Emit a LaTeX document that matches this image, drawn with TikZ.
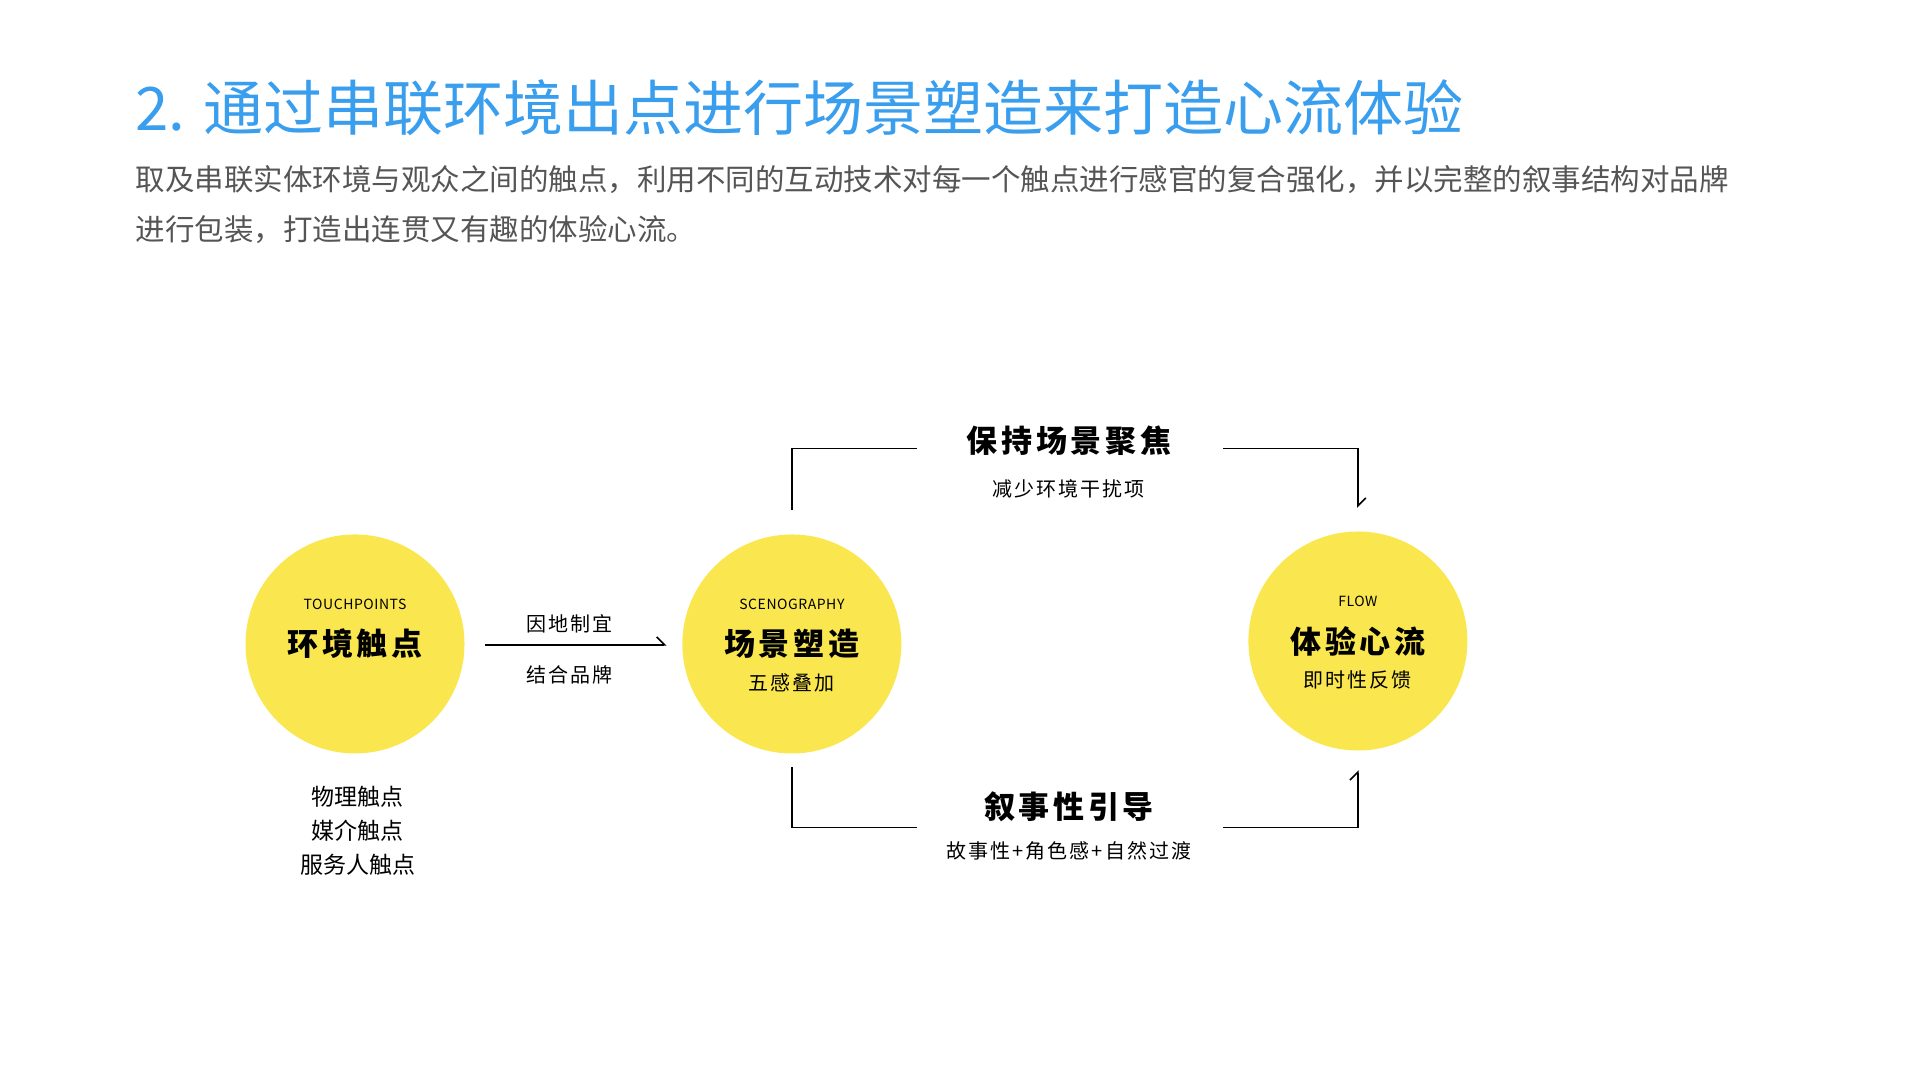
\documentclass[tikz,border=0pt]{standalone}
\usepackage{fontspec}
\setmainfont{Noto Sans CJK SC}
\usetikzlibrary{positioning,arrows.meta}
\definecolor{titleblue}{HTML}{3A9EEE}
\definecolor{circleyellow}{HTML}{FAE74F}
\definecolor{textgray}{HTML}{555555}
\begin{document}
\begin{tikzpicture}[x=0.986pt,y=-0.986pt,
   spot/.style={circle,fill=circleyellow,minimum size=219pt,inner sep=0pt},
   tag/.style={font=\fontsize{14}{16}\selectfont\addfontfeature{LetterSpace=4}},
   head/.style={font=\fontsize{31}{36}\bfseries\addfontfeature{LetterSpace=12}\selectfont},
   sub/.style={font=\fontsize{20}{24}\selectfont\addfontfeature{LetterSpace=10}},
   link/.style={line width=1.6pt,-{Straight Barb[harpoon,length=8pt,width=16pt]}}]
   \useasboundingbox (0,0) rectangle (1947,1095);
   % heading
   \node[anchor=west,text=titleblue,font=\fontsize{60}{64}\selectfont] (title) at (134,109) {2. 通过串联环境出点进行场景塑造来打造心流体验};
   \node[anchor=north west,text=textgray,align=left,font=\fontsize{29.5}{50}\selectfont] (intro) at (134,164)
      {取及串联实体环境与观众之间的触点，利用不同的互动技术对每一个触点进行感官的复合强化，并以完整的叙事结构对品牌\\进行包装，打造出连贯又有趣的体验心流。};
   % circles
   \node[spot] (touch) at (360,653) {};
   \node[spot] (scene) at (803,653) {};
   \node[spot] (flow)  at (1377,650) {};
   \node[tag] at ([yshift=40pt]touch.center) {TOUCHPOINTS};
   \node[head] at (touch.center) {环境触点};
   \node[tag] at ([yshift=40pt]scene.center) {SCENOGRAPHY};
   \node[head] at (scene.center) {场景塑造};
   \node[sub] at ([yshift=-39pt]scene.center) {五感叠加};
   \node[tag] at ([yshift=40pt]flow.center) {FLOW};
   \node[head] at (flow.center) {体验心流};
   \node[sub] at ([yshift=-39pt]flow.center) {即时性反馈};
   % touch -> scene
   \coordinate (tA) at (492,654);
   \coordinate (tB) at (676,654);
   \draw[link] (tA) -- (tB);
   \node[sub] (fit) at (578,633) {因地制宜};
   \node[sub] (brand) at (578,684) {结合品牌};
   \node[align=center,font=\fontsize{23}{34}\selectfont] (kinds) at (363,842) {物理触点\\媒介触点\\服务人触点};
   % top loop
   \node[head] (focus) at (1084,447) {保持场景聚焦};
   \node[sub] (calm) at (1084,496) {减少环境干扰项};
   \coordinate (u1) at (803,517);
   \coordinate (u2) at (930,455);
   \coordinate (u3) at (1240,455);
   \coordinate (u4) at (1377,515);
   \draw[line width=1.6pt] (u1) |- (u2);
   \draw[link] (u3) -| (u4);
   % bottom loop
   \node[head] (story) at (1084,818) {叙事性引导};
   \node[sub] (mix) at (1084,863) {故事性+角色感+自然过渡};
   \coordinate (d1) at (803,778);
   \coordinate (d2) at (930,839);
   \coordinate (d3) at (1240,839);
   \coordinate (d4) at (1377,781);
   \draw[line width=1.6pt] (d1) |- (d2);
   \draw[link] (d3) -| (d4);
\end{tikzpicture}
\end{document}
